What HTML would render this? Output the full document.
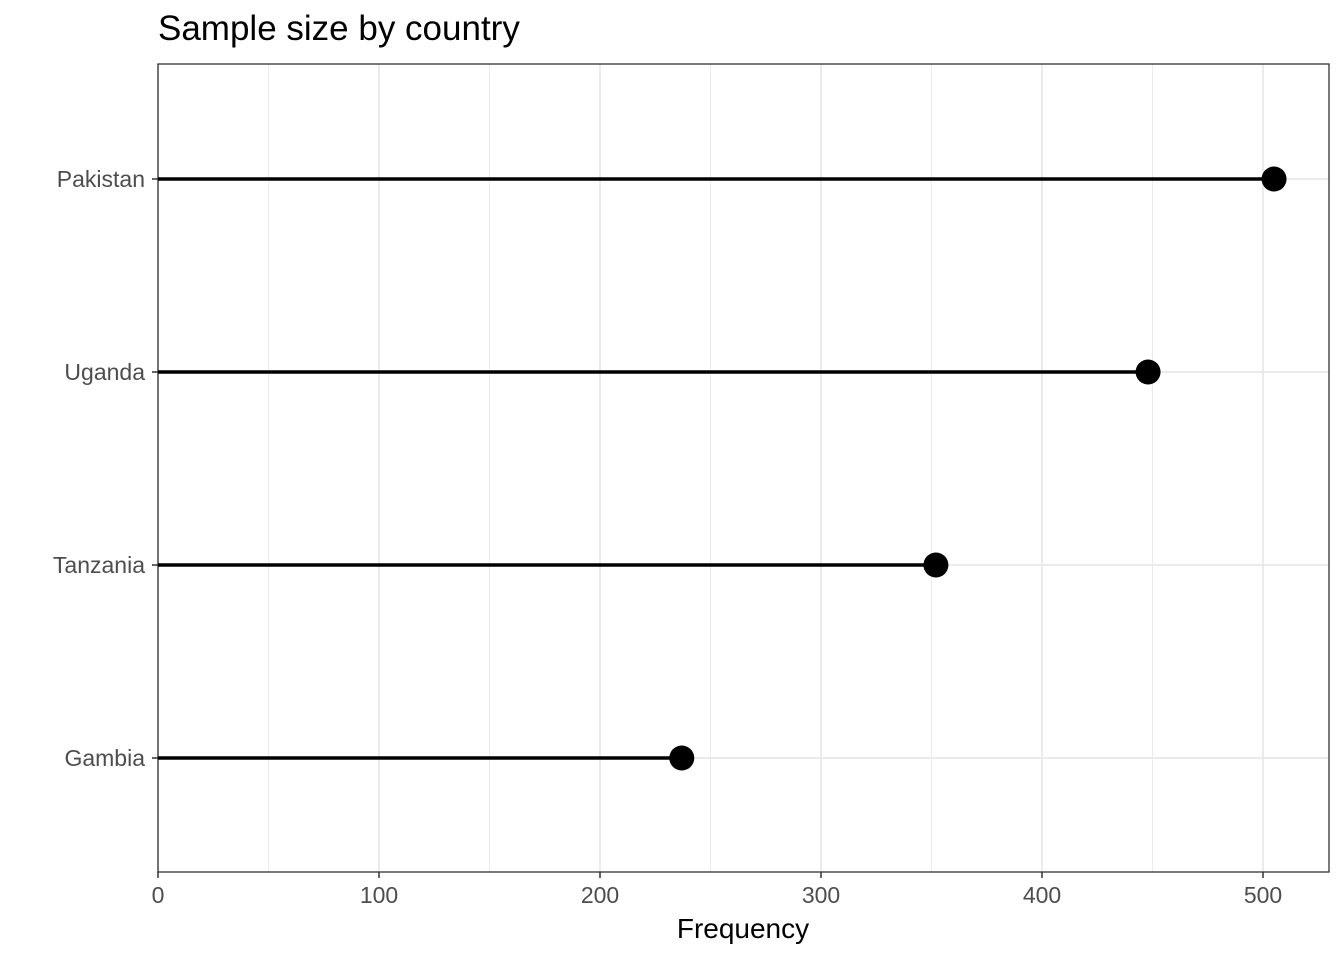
<!DOCTYPE html>
<html><head><meta charset="utf-8"><style>
body{margin:0;background:#fff;}
svg{display:block;font-family:"Liberation Sans",sans-serif;}
</style></head><body>
<svg id="chart" width="1344" height="960">
<text x="158" y="40" font-size="35" fill="#000">Sample size by country</text>
<text x="743" y="938" font-size="28" text-anchor="middle" fill="#000">Frequency</text>
</svg>
<script>
const categories = ["Pakistan","Uganda","Tanzania","Gambia"];
const values = [505, 448, 352, 237];
const xTicks = [0,100,200,300,400,500];
const xMinor = [50,150,250,350,450];

const svg = document.getElementById('chart');
const NS = 'http://www.w3.org/2000/svg';
const L=158, R=1329, T=64, B=872;
const xs = v => L + v*(1263-158)/500;
const rowTop = 179, rowStep = 193;
const ys = i => rowTop + i*rowStep;
function mk(tag, attrs){const e=document.createElementNS(NS,tag);for(const k in attrs)e.setAttribute(k,attrs[k]);svg.appendChild(e);return e;}

xMinor.forEach(v=>{
  const g=mk('line',{x1:xs(v),x2:xs(v),y1:T,y2:B,stroke:'#ebebeb','stroke-width':1});
  
  
});
xTicks.forEach(v=>{
  const g=mk('line',{x1:xs(v),x2:xs(v),y1:T,y2:B,stroke:'#ebebeb','stroke-width':2});
  
  
  const t=mk('line',{x1:xs(v),x2:xs(v),y1:B,y2:B+6,stroke:'#333','stroke-width':1.5});
  
  
  const l=mk('text',{x:xs(v),y:B+31,'font-size':23,'text-anchor':'middle',fill:'#4d4d4d'});
  l.textContent=v;
  
  
});
categories.forEach((c,i)=>{
  const y=ys(i);
  const g=mk('line',{x1:L,x2:R,y1:y,y2:y,stroke:'#ebebeb','stroke-width':2});
  
  
});
const frame=mk('rect',{x:L,y:T,width:R-L,height:B-T,fill:'none',stroke:'#333','stroke-width':1.3});


categories.forEach((c,i)=>{
  const y=ys(i);
  const t=mk('line',{x1:L-6,x2:L,y1:y,y2:y,stroke:'#333','stroke-width':1.5});
  
  
  const l=mk('text',{x:L-13,y:y+8,'font-size':23,'text-anchor':'end',fill:'#4d4d4d'});
  l.textContent=c;
  
  
  const s=mk('line',{x1:xs(0),x2:xs(values[i]),y1:y,y2:y,stroke:'#000','stroke-width':3.5});
  
  
  const d=mk('circle',{cx:xs(values[i]),cy:y,r:12.5,fill:'#000'});
  
  
});
</script>
</body></html>
